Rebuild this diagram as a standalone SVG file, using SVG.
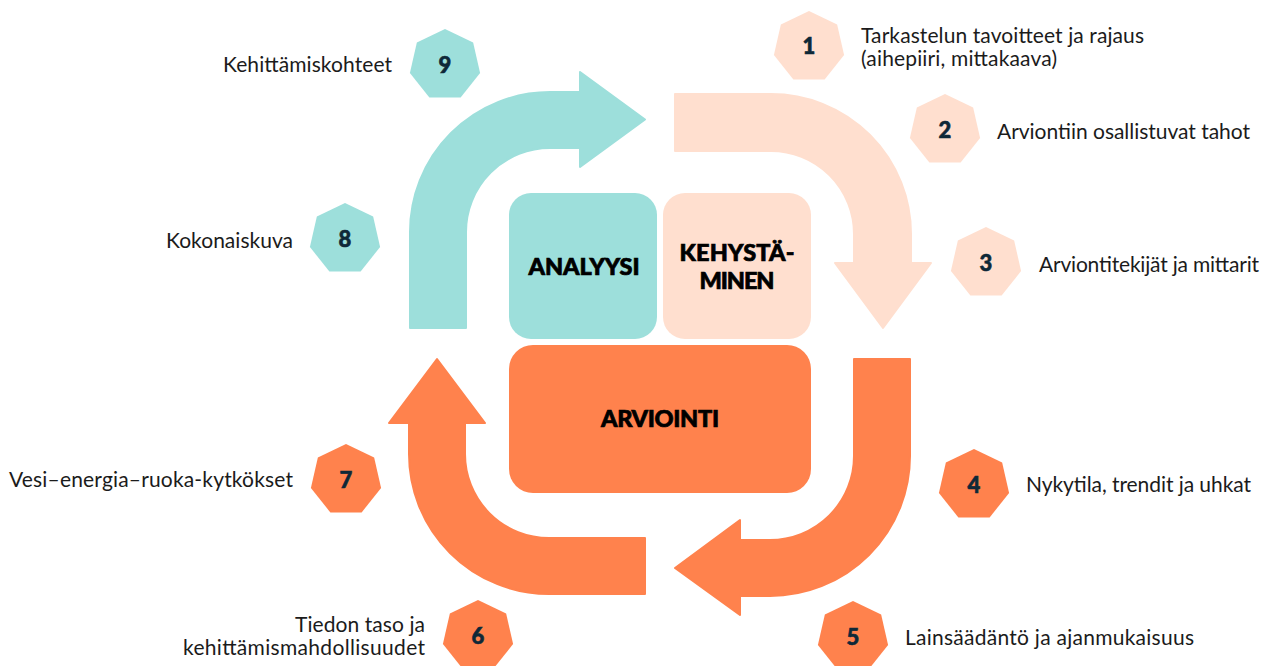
<svg xmlns="http://www.w3.org/2000/svg" xmlns:xlink="http://www.w3.org/1999/xlink" width="1268" height="666" viewBox="0 0 1268 666">
<style>
.teal{fill:#9ddfdb}
.peach{fill:#ffdfcf}
.orange{fill:#ff824d}
.arr{stroke-width:2;stroke-linejoin:round}
.teal.arr{stroke:#9ddfdb}
.peach.arr{stroke:#ffdfcf}
.orange.arr{stroke:#ff824d}
.num{font-family:Lato,"Noto Sans",sans-serif;font-weight:900;font-size:22px;fill:#0e2838;stroke:#0e2838;stroke-width:0.6;text-anchor:middle}
.box{font-family:Lato,"Noto Sans",sans-serif;font-weight:900;font-size:23.5px;fill:#000;stroke:#000;stroke-width:0.7;text-anchor:middle}
.lbl{font-family:Lato,"Noto Sans",sans-serif;font-size:21px;fill:#1b1b1b}
.r{text-anchor:end}
</style>
<defs>
<polygon id="hep" points="0,-36 28.14,-22.45 35.1,8.01 15.62,32.44 -15.62,32.44 -35.1,8.01 -28.14,-22.45" stroke-linejoin="round"/>
</defs>
<rect width="1268" height="666" fill="#fff"/>
<g id="connectors">
<path class="teal arr" d="M410 328 L410 232 A140 140 0 0 1 550 92 L580 92 L580 72 L645 119.5 L580 167 L580 148 L550 148 A84 84 0 0 0 466 232 L466 328 Z"/>
<path class="peach arr" d="M675 94 L771 94 A140 140 0 0 1 911 234 L911 263 L931 263 L883 328 L835 263 L854 263 L854 234 A83 83 0 0 0 771 151 L675 151 Z"/>
<path class="orange arr" d="M854 359 L910 359 L910 456 A140 140 0 0 1 770 596 L740 596 L740 615 L675 568 L740 520 L740 540 L770 540 A84 84 0 0 0 854 456 Z"/>
<path class="orange arr" d="M645 538 L645 594 L549 594 A140 140 0 0 1 409 454 L409 423 L389 423 L437 359 L485 423 L465 423 L465 454 A84 84 0 0 0 549 538 Z"/>
</g>
<g id="analyysi">
<rect class="teal" x="509" y="193" width="148" height="146" rx="22"/>
<text class="box" x="584" y="275" textLength="111">ANALYYSI</text>
</g>
<g id="kehystaminen">
<rect class="peach" x="663" y="193" width="148" height="146" rx="22"/>
<text class="box" x="737" y="261" textLength="115">KEHYSTÄ-</text>
<text class="box" x="737" y="289" textLength="75">MINEN</text>
</g>
<g id="arviointi">
<rect class="orange" x="509" y="345" width="302" height="148" rx="24"/>
<text class="box" x="660" y="427" textLength="118">ARVIOINTI</text>
</g>
<g id="step1">
<use xlink:href="#hep" x="809" y="47" class="peach"/>
<text class="num" x="809" y="54">1</text>
<text class="lbl" x="861" y="43" textLength="283">Tarkastelun tavoitteet ja rajaus</text>
<text class="lbl" x="861" y="66" textLength="196">(aihepiiri, mittakaava)</text>
</g>
<g id="step2">
<use xlink:href="#hep" x="945" y="130" class="peach"/>
<text class="num" x="945" y="138">2</text>
<text class="lbl" x="997" y="139" textLength="253">Arviontiin osallistuvat tahot</text>
</g>
<g id="step3">
<use xlink:href="#hep" x="986" y="263" class="peach"/>
<text class="num" x="986" y="271">3</text>
<text class="lbl" x="1039" y="272" textLength="220">Arviontitekijät ja mittarit</text>
</g>
<g id="step4">
<use xlink:href="#hep" x="974" y="485" class="orange"/>
<text class="num" x="974" y="493">4</text>
<text class="lbl" x="1026" y="492" textLength="225">Nykytila, trendit ja uhkat</text>
</g>
<g id="step5">
<use xlink:href="#hep" x="853" y="637" class="orange"/>
<text class="num" x="853" y="645">5</text>
<text class="lbl" x="905" y="645" textLength="289">Lainsäädäntö ja ajanmukaisuus</text>
</g>
<g id="step6">
<use xlink:href="#hep" x="478" y="636" class="orange"/>
<text class="num" x="478" y="644">6</text>
<text class="lbl r" x="425" y="632" textLength="130">Tiedon taso ja</text>
<text class="lbl r" x="425" y="655" textLength="242">kehittämismahdollisuudet</text>
</g>
<g id="step7">
<use xlink:href="#hep" x="346" y="480" class="orange"/>
<text class="num" x="346" y="488">7</text>
<text class="lbl r" x="293" y="487" textLength="284">Vesi–energia–ruoka-kytkökset</text>
</g>
<g id="step8">
<use xlink:href="#hep" x="345" y="239" class="teal"/>
<text class="num" x="345" y="247">8</text>
<text class="lbl r" x="293" y="248" textLength="127">Kokonaiskuva</text>
</g>
<g id="step9">
<use xlink:href="#hep" x="445" y="65" class="teal"/>
<text class="num" x="445" y="73">9</text>
<text class="lbl r" x="392" y="72" textLength="169">Kehittämiskohteet</text>
</g>
</svg>
